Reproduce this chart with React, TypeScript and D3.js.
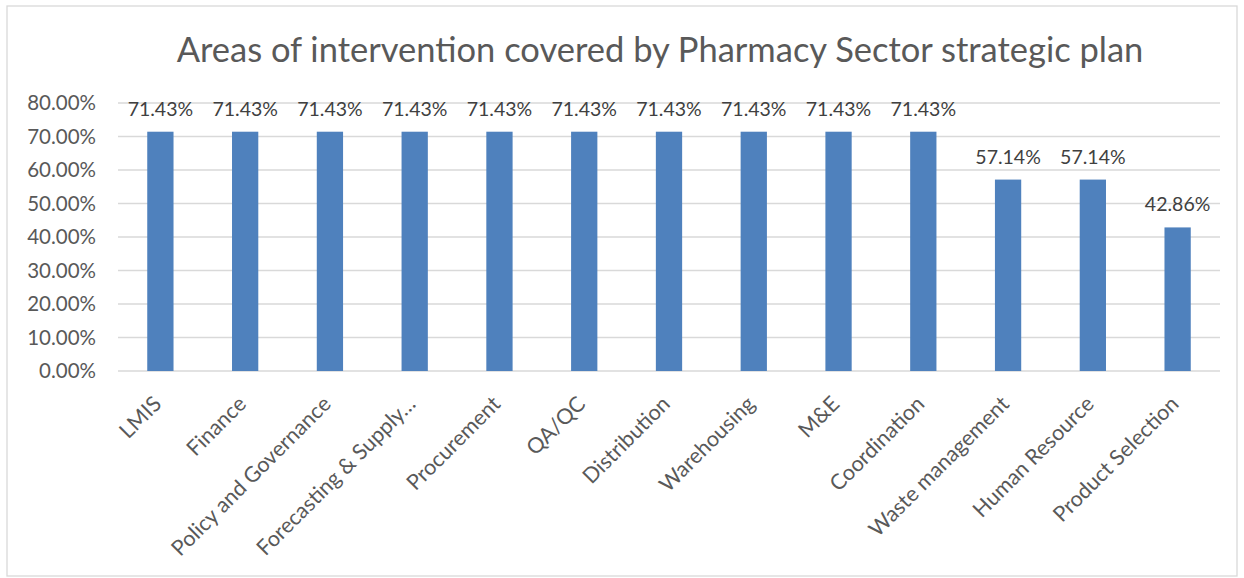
import React from "react";
import * as d3 from "d3";

const categories = [
  "LMIS",
  "Finance",
  "Policy and Governance",
  "Forecasting & Supply…",
  "Procurement",
  "QA/QC",
  "Distribution",
  "Warehousing",
  "M&E",
  "Coordination",
  "Waste management",
  "Human Resource",
  "Product Selection",
];
const values = [71.43, 71.43, 71.43, 71.43, 71.43, 71.43, 71.43, 71.43, 71.43, 71.43, 57.14, 57.14, 42.86];
const yTicks = [0, 10, 20, 30, 40, 50, 60, 70, 80];
const title = "Areas of intervention covered by Pharmacy Sector strategic plan";

const W = 1244;
const H = 578;
const FONT = "Lato, 'Open Sans', sans-serif";

export default function App() {
  const x = d3.scaleBand<string>().domain(categories).range([118, 1220]).paddingInner(0.69).paddingOuter(0.345);
  const y = d3.scaleLinear().domain([0, 80]).range([371, 103]);
  const fmt = (v: number) => v.toFixed(2) + "%";
  return (
    <svg width={W} height={H} style={{ position: "absolute", left: 0, top: 0 }} fontFamily={FONT}>
      <rect x={0} y={0} width={W} height={H} fill="#fff" />
      <rect x={7} y={6} width={1230} height={570} fill="#fff" stroke="#d9d9d9" strokeWidth={1.3} />
      <text x={660} y={62} textAnchor="middle" fontSize={34.5} fill="#595959">
        {title}
      </text>
      {yTicks.map((t) => (
        <g key={t}>
          <line x1={118} x2={1220} y1={y(t)} y2={y(t)} stroke="#d9d9d9" strokeWidth={1.3} />
          <text x={96} y={y(t)} dy="0.35em" textAnchor="end" fontSize={20.5} fill="#595959">
            {fmt(t)}
          </text>
        </g>
      ))}
      {categories.map((c, i) => {
        const cx = x(c)! + x.bandwidth() / 2;
        return (
          <g key={c}>
            <rect x={x(c)} y={y(values[i])} width={x.bandwidth()} height={y(0) - y(values[i])} fill="#4f81bd" />
            <text x={cx} y={y(values[i]) - 16} textAnchor="middle" fontSize={19.5} fill="#404040">
              {fmt(values[i])}
            </text>
            <text
              transform={`translate(${cx - 3},${y(0) + 29}) rotate(-45)`}
              textAnchor="end"
              dy="0.35em"
              fontSize={21.5}
              fill="#595959"
            >
              {c}
            </text>
          </g>
        );
      })}
    </svg>
  );
}
